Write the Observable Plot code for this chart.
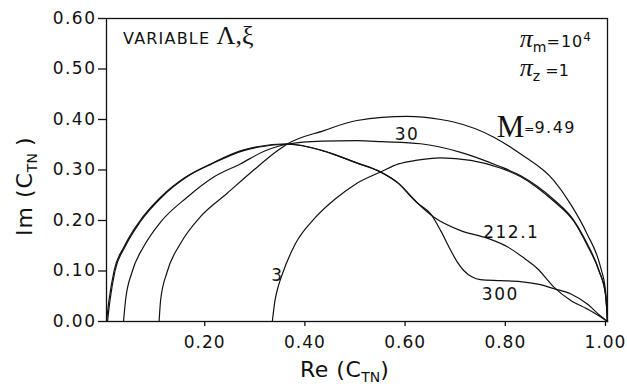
<!DOCTYPE html>
<html><head><meta charset="utf-8">
<script src="https://cdn.jsdelivr.net/npm/d3@7"></script>
<script src="https://cdn.jsdelivr.net/npm/@observablehq/plot@0.6"></script>
<style>
html,body{margin:0;padding:0;background:#fff;}
</style></head><body><div id="chart"></div>
<script>
// Tick values
const xTicks = [0.2, 0.4, 0.6, 0.8, 1.0];
const yTicks = [0, 0.1, 0.2, 0.3, 0.4, 0.5, 0.6];

// Curves [Re(C_TN), Im(C_TN)]
const curveM949 = [[0.105,0],[0.108,0.042],[0.121,0.098],[0.148,0.155],[0.188,0.208],[0.241,0.254],[0.294,0.30],[0.341,0.338],[0.36,0.351],[0.434,0.378],[0.50,0.398],[0.60,0.406],[0.667,0.400],[0.693,0.395],[0.773,0.365],[0.826,0.332],[0.893,0.279],[0.926,0.233],[0.959,0.174],[0.986,0.108],[0.996,0.061],[1.0,0]];
const curve30 = [[0.034,0],[0.038,0.042],[0.051,0.098],[0.074,0.148],[0.108,0.197],[0.161,0.246],[0.214,0.286],[0.267,0.312],[0.317,0.338],[0.36,0.351],[0.43,0.357],[0.50,0.358],[0.55,0.356],[0.627,0.352],[0.707,0.335],[0.78,0.309],[0.826,0.289],[0.893,0.241],[0.933,0.20],[0.959,0.155],[0.983,0.101],[0.996,0.055],[1.0,0]];
const curve3 = [[0.331,0],[0.336,0.04],[0.343,0.07],[0.351,0.094],[0.377,0.154],[0.417,0.206],[0.457,0.243],[0.497,0.272],[0.547,0.296],[0.583,0.312],[0.617,0.319],[0.667,0.324],[0.727,0.319],[0.786,0.304],[0.826,0.287],[0.86,0.265],[0.893,0.238],[0.933,0.198],[0.959,0.152],[0.983,0.10],[0.996,0.053],[1.0,0]];
const curve2121 = [[0,0],[0.005,0.042],[0.015,0.10],[0.035,0.148],[0.065,0.197],[0.108,0.246],[0.158,0.286],[0.208,0.312],[0.267,0.338],[0.30,0.346],[0.36,0.352],[0.43,0.339],[0.497,0.315],[0.547,0.296],[0.583,0.273],[0.607,0.248],[0.653,0.207],[0.707,0.18],[0.76,0.165],[0.80,0.148],[0.83,0.128],[0.86,0.105],[0.893,0.068],[0.926,0.042],[0.959,0.025],[0.985,0.01],[1.0,0]];
const curve300 = [[0.002,0],[0.007,0.042],[0.017,0.10],[0.037,0.148],[0.067,0.197],[0.110,0.246],[0.160,0.286],[0.210,0.312],[0.269,0.337],[0.302,0.345],[0.362,0.351],[0.432,0.338],[0.499,0.314],[0.549,0.295],[0.585,0.272],[0.62,0.235],[0.647,0.213],[0.667,0.18],[0.687,0.141],[0.70,0.118],[0.713,0.101],[0.73,0.088],[0.746,0.083],[0.786,0.081],[0.826,0.079],[0.866,0.073],[0.893,0.065],[0.926,0.055],[0.959,0.035],[0.985,0.012],[1.0,0]];

const seriesNames = ["9.49", "30", "3", "212.1", "300"];
const seriesCurves = [curveM949, curve30, curve3, curve2121, curve300];
const data = seriesNames.flatMap((s, i) => seriesCurves[i].map(([re, im]) => ({series: s, re, im})));

// Annotation labels (data coordinates)
const curveLabels = [
  {text: "30", re: 0.60, im: 0.36},
  {text: "212.1", re: 0.808, im: 0.166},
  {text: "300", re: 0.786, im: 0.042},
  {text: "3", re: 0.341, im: 0.081}
];

const SANS = "DejaVu Sans";
const SERIF = "Liberation Serif";

const plot = Plot.plot({
  width: 627,
  height: 384,
  marginLeft: 106,
  marginRight: 20,
  marginTop: 18,
  marginBottom: 63,
  x: {domain: [0, 1]},
  y: {domain: [0, 0.6]},
  style: {fontFamily: SANS, background: "#fff", color: "#111"},
  marks: [
    Plot.frame({stroke: "#111", strokeWidth: 1.3}),
    Plot.axisY({ticks: yTicks, tickFormat: d3.format(".2f"), tickSize: 8, tickPadding: 2, fontSize: 17, label: null, strokeWidth: 1.3, ariaLabel: "y-axis"}),
    Plot.axisX({ticks: xTicks, tickFormat: d3.format(".2f"), tickSize: 5, tickPadding: 9, fontSize: 17, label: null, strokeWidth: 1.3, ariaLabel: "x-axis", dx: -2}),
    Plot.line(data, {x: "re", y: "im", z: "series", curve: "monotone-x", stroke: "#111", strokeWidth: 1.2}),
    Plot.text(curveLabels, {x: "re", y: "im", text: "text", fontSize: 17, fill: "#111", lineAnchor: "bottom", textAnchor: "middle"})
  ]
});
document.getElementById("chart").appendChild(plot);

const svg = d3.select(plot);
const sx = plot.scale("x"), sy = plot.scale("y");
svg.selectAll("text").attr("letter-spacing", "1.5");
svg.selectAll('g[aria-label="x-axis tick label"] text').attr("letter-spacing", "1");

function addText(px, py, parts, opts = {}) {
  const t = svg.append("text").attr("x", px).attr("y", py)
    .attr("fill", "#111").attr("font-family", SANS)
    .attr("text-anchor", opts.anchor || "start");
  if (opts.transform) t.attr("transform", opts.transform);
  for (const p of parts) {
    const s = t.append("tspan").text(p.text);
    if (p.font) s.attr("font-family", p.font);
    s.attr("font-size", p.size || 16);
    if (p.dy) s.attr("dy", p.dy);
    if (p.dx) s.attr("dx", p.dx);
    if (p.style) s.attr("font-style", p.style);
    if (p.ls != null) s.attr("letter-spacing", p.ls);
  }
  return t;
}

// VARIABLE Λ,ξ
addText(sx.apply(0.034), sy.apply(0.549), [
  {text: "VARIABLE ", size: 16, ls: 1.2},
  {text: "Λ,ξ", font: SERIF, size: 26, ls: 0}
]);
// π_m = 10^4
addText(sx.apply(0.826), sy.apply(0.543), [
  {text: "π", font: SERIF, size: 26, style: "italic"},
  {text: "m", size: 14, dy: 5},
  {text: "=10", size: 16, dy: -5, ls: 1},
  {text: "4", size: 12, dy: -6}
]);
// π_z = 1
addText(sx.apply(0.826), sy.apply(0.485), [
  {text: "π", font: SERIF, size: 26, style: "italic"},
  {text: "z", size: 14, dy: 5},
  {text: " =1", size: 16, dy: -5}
]);
// M = 9.49
addText(sx.apply(0.78), sy.apply(0.364), [
  {text: "M", font: SERIF, size: 31},
  {text: "=", size: 12, dy: -4},
  {text: "9.49", size: 16, dy: 0, ls: 1.5}
]);
// Axis titles
addText(300, 377, [
  {text: "Re (C", size: 22, ls: 0.5},
  {text: "TN", size: 14, dy: 5},
  {text: ")", size: 22, dy: -5}
]);
addText(0, 0, [
  {text: "Im (C", size: 22, ls: 1},
  {text: "TN", size: 14, dy: 5},
  {text: " )", size: 22, dy: -5}
], {transform: "translate(32,236) rotate(-90)"});
</script></body></html>
